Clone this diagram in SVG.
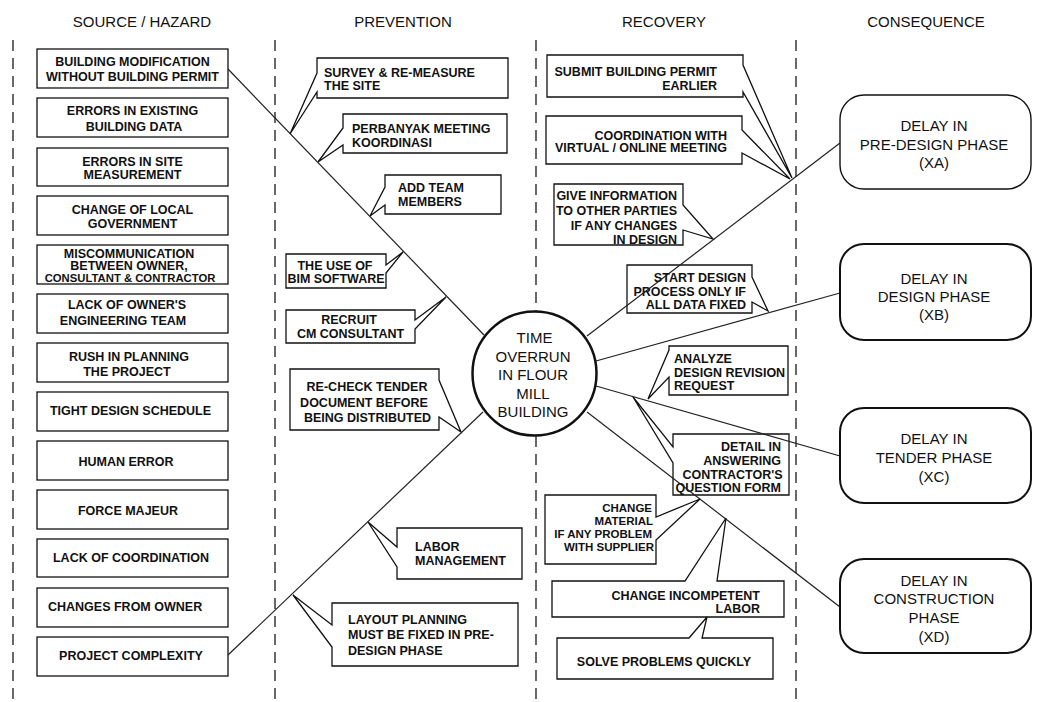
<svg xmlns="http://www.w3.org/2000/svg" width="1044" height="702" viewBox="0 0 1044 702">
<style>
.hdr{font-family:'Liberation Sans',Arial,sans-serif;font-size:15px;fill:#111;text-anchor:middle}
.t{font-family:'Liberation Sans',Arial,sans-serif;font-size:12.5px;font-weight:bold;fill:#111}
.m{text-anchor:middle}
.e{text-anchor:end}
.big{font-family:'Liberation Sans',Arial,sans-serif;font-size:15px;fill:#111;text-anchor:middle}
.box{fill:#fff;stroke:#111;stroke-width:1.3}
.cons{fill:#fff;stroke:#111;stroke-width:2}
.ln{stroke:#222;stroke-width:1.2;fill:none}
.dash{stroke:#444;stroke-width:1.6;stroke-dasharray:11 7;fill:none}
</style>
<rect width="1044" height="702" fill="#fff"/>
<g id="columns">
<line class="dash" x1="13" y1="40" x2="13" y2="702"/>
<line class="dash" x1="275" y1="40" x2="275" y2="702"/>
<line class="dash" x1="536" y1="40" x2="536" y2="702"/>
<line class="dash" x1="796" y1="40" x2="796" y2="702"/>
<text class="hdr" x="142" y="27">SOURCE / HAZARD</text>
<text class="hdr" x="403" y="27">PREVENTION</text>
<text class="hdr" x="664" y="27">RECOVERY</text>
<text class="hdr" x="926" y="27">CONSEQUENCE</text>
</g>
<g id="hazards">
<g id="h1"><rect class="box" x="37" y="49" width="191" height="39"/><text class="t m" x="132.5" y="65.5">BUILDING MODIFICATION</text><text class="t m" x="132.5" y="80.5">WITHOUT BUILDING PERMIT</text></g>
<g id="h2"><rect class="box" x="37" y="98" width="191" height="39"/><text class="t m" x="132.5" y="114.5">ERRORS IN EXISTING</text><text class="t m" x="134" y="130.5">BUILDING DATA</text></g>
<g id="h3"><rect class="box" x="37" y="148" width="191" height="38"/><text class="t m" x="132.5" y="165.5">ERRORS IN SITE</text><text class="t m" x="132.5" y="178.5">MEASUREMENT</text></g>
<g id="h4"><rect class="box" x="37" y="196" width="191" height="39"/><text class="t m" x="132.5" y="213.5">CHANGE OF LOCAL</text><text class="t m" x="132.5" y="227.5">GOVERNMENT</text></g>
<g id="h5"><rect class="box" x="37" y="245" width="191" height="39"/><text class="t m" x="129" y="257.5">MISCOMMUNICATION</text><text class="t m" x="129" y="269.5">BETWEEN OWNER,</text><text class="t m" x="130" y="282" style="font-size:11.3px">CONSULTANT &amp; CONTRACTOR</text></g>
<g id="h6"><rect class="box" x="37" y="294" width="191" height="39"/><text class="t m" x="127" y="308.5">LACK OF OWNER'S</text><text class="t m" x="123" y="324.5">ENGINEERING TEAM</text></g>
<g id="h7"><rect class="box" x="37" y="343" width="191" height="39"/><text class="t m" x="129" y="360.5">RUSH IN PLANNING</text><text class="t m" x="127" y="375.5">THE PROJECT</text></g>
<g id="h8"><rect class="box" x="37" y="392" width="191" height="39"/><text class="t m" x="130.5" y="415">TIGHT DESIGN SCHEDULE</text></g>
<g id="h9"><rect class="box" x="37" y="441" width="191" height="39"/><text class="t m" x="126" y="465.5">HUMAN ERROR</text></g>
<g id="h10"><rect class="box" x="37" y="490" width="191" height="39"/><text class="t m" x="128" y="515">FORCE MAJEUR</text></g>
<g id="h11"><rect class="box" x="37" y="539" width="191" height="38"/><text class="t m" x="131" y="562">LACK OF COORDINATION</text></g>
<g id="h12"><rect class="box" x="37" y="588" width="191" height="39"/><text class="t" x="48" y="610.5">CHANGES FROM OWNER</text></g>
<g id="h13"><rect class="box" x="37" y="637" width="191" height="39"/><text class="t m" x="131" y="660">PROJECT COMPLEXITY</text></g>
</g>
<g id="prevention">
<g id="p1"><path class="box" d="M317,58 H508 V98 H317 V92 L290,134 L317,73 Z"/><text class="t" x="324" y="76.5">SURVEY &amp; RE-MEASURE</text><text class="t" x="324" y="89.5">THE SITE</text></g>
<g id="p2"><path class="box" d="M343,114 H507 V153 H343 V145 L318,162 L343,128 Z"/><text class="t" x="352" y="132.5">PERBANYAK MEETING</text><text class="t" x="352" y="146.5">KOORDINASI</text></g>
<g id="p3"><path class="box" d="M385,175 H501 V214 H385 V205 L370,216 L385,187 Z"/><text class="t" x="398" y="191.5">ADD TEAM</text><text class="t" x="398" y="205.5">MEMBERS</text></g>
<g id="p4"><path class="box" d="M286,254 H386 V265 L403,252 L386,273 V288 H286 Z"/><text class="t m" x="335" y="269.5">THE USE OF</text><text class="t m" x="336" y="282.5">BIM SOFTWARE</text></g>
<g id="p5"><path class="box" d="M286,310 H415 V320 L446,297 L415,329 V343 H286 Z"/><text class="t m" x="349" y="323.5">RECRUIT</text><text class="t m" x="350.5" y="337.5">CM CONSULTANT</text></g>
<g id="p6"><path class="box" d="M290,369 H439 V380 L461,432 L439,417 V430 H290 Z"/><text class="t m" x="367" y="390.5">RE-CHECK TENDER</text><text class="t m" x="364" y="406.5">DOCUMENT BEFORE</text><text class="t m" x="367.5" y="421.5">BEING DISTRIBUTED</text></g>
<g id="p7"><path class="box" d="M397,528 H522 V579 H397 V567 L368,522 L397,547 Z"/><text class="t" x="415" y="550.5">LABOR</text><text class="t" x="415" y="564.5">MANAGEMENT</text></g>
<g id="p8"><path class="box" d="M332,603 H518 V666 H332 V647 L293,595 L332,625 Z"/><text class="t" x="348" y="623.5">LAYOUT PLANNING</text><text class="t" x="348" y="638.5">MUST BE FIXED IN PRE-</text><text class="t" x="348" y="654.5">DESIGN PHASE</text></g>
</g>
<g id="recovery">
<g id="r1"><path class="box" d="M547,55 H743 V65 L792,178 L743,92 V97 H547 Z"/><text class="t e" x="717" y="75.5">SUBMIT BUILDING PERMIT</text><text class="t e" x="717" y="89.5">EARLIER</text></g>
<g id="r2"><path class="box" d="M546,116 H742 V130 L790,179 L742,153 V164 H546 Z"/><text class="t e" x="727" y="139.5">COORDINATION WITH</text><text class="t e" x="727" y="151.5">VIRTUAL / ONLINE MEETING</text></g>
<g id="r3"><path class="box" d="M554,184 H683 V205 L713,239 L683,230 V245 H554 Z"/><text class="t e" x="677" y="199.5">GIVE INFORMATION</text><text class="t e" x="677" y="215">TO OTHER PARTIES</text><text class="t e" x="677" y="229.5">IF ANY CHANGES</text><text class="t e" x="677" y="243.5">IN DESIGN</text></g>
<g id="r4"><path class="box" d="M627,265 H752 V277 L768,311 L752,302 V313 H627 Z"/><text class="t e" x="746" y="281.5">START DESIGN</text><text class="t e" x="746" y="295.5">PROCESS ONLY IF</text><text class="t e" x="746" y="308.5">ALL DATA FIXED</text></g>
<g id="r5"><path class="box" d="M669,346 H788 V395 H669 V377 L648,399 L669,350 Z"/><text class="t" x="674" y="362.5">ANALYZE</text><text class="t" x="674" y="376.5">DESIGN REVISION</text><text class="t" x="674" y="389.5">REQUEST</text></g>
<g id="r6"><path class="box" d="M673,434 H789 V495 H673 V463 L633,397 L673,447 Z"/><text class="t e" x="781" y="450.5">DETAIL IN</text><text class="t e" x="781" y="464.5">ANSWERING</text><text class="t e" x="782.5" y="478.5">CONTRACTOR'S</text><text class="t e" x="781" y="491.5">QUESTION FORM</text></g>
<g id="r7"><path class="box" d="M545,495 H656 V517 L700,499 L656,540 V564 H545 Z"/><text class="t e" x="652" y="512" style="font-size:11.5px">CHANGE</text><text class="t e" x="653" y="525" style="font-size:11.5px">MATERIAL</text><text class="t e" x="652" y="538" style="font-size:11.5px">IF ANY PROBLEM</text><text class="t e" x="654" y="551" style="font-size:11.5px">WITH SUPPLIER</text></g>
<g id="r8"><path class="box" d="M552,581 H685 L726,518 L717,581 H784 V617 H552 Z"/><text class="t e" x="760" y="599.5">CHANGE INCOMPETENT</text><text class="t e" x="760" y="612.5">LABOR</text></g>
<g id="r9"><path class="box" d="M557,638 H689 L707,617 L702,638 H773 V679 H557 Z"/><text class="t m" x="664" y="665.5">SOLVE PROBLEMS QUICKLY</text></g>
</g>
<g id="connectors">
<path class="ln" d="M228,69 L484,335"/>
<path class="ln" d="M228,655 L483,412"/>
<path class="ln" d="M587,336 L840,143"/>
<path class="ln" d="M596,361 L840,293"/>
<path class="ln" d="M596,386 L840,456"/>
<path class="ln" d="M587,412 L840,607"/>
</g>
<g id="top_event">
<circle cx="534.5" cy="373.5" r="62" fill="#fff" stroke="#111" stroke-width="2.5"/>
<text class="big" x="534.5" y="343">TIME</text>
<text class="big" x="533" y="361.5">OVERRUN</text>
<text class="big" x="533" y="380">IN FLOUR</text>
<text class="big" x="533" y="398.5">MILL</text>
<text class="big" x="533" y="417">BUILDING</text>
</g>
<g id="consequences">
<g id="xa"><rect x="840" y="95" width="191" height="94" rx="24" fill="#fff" stroke="#111" stroke-width="1.4"/><text class="big" x="934" y="131">DELAY IN</text><text class="big" x="934" y="149.5">PRE-DESIGN PHASE</text><text class="big" x="934" y="168">(XA)</text></g>
<g id="xb"><rect class="cons" x="840" y="244" width="191" height="96" rx="24"/><text class="big" x="934" y="283.5">DELAY IN</text><text class="big" x="934" y="301.5">DESIGN PHASE</text><text class="big" x="934" y="320">(XB)</text></g>
<g id="xc"><rect class="cons" x="840" y="408" width="191" height="95" rx="24"/><text class="big" x="934" y="443.5">DELAY IN</text><text class="big" x="934" y="462.5">TENDER PHASE</text><text class="big" x="934" y="481.5">(XC)</text></g>
<g id="xd"><rect class="cons" x="840" y="559" width="191" height="94" rx="24"/><text class="big" x="934" y="585.5">DELAY IN</text><text class="big" x="934" y="604">CONSTRUCTION</text><text class="big" x="934" y="622.5">PHASE</text><text class="big" x="934" y="642">(XD)</text></g>
</g>
</svg>
